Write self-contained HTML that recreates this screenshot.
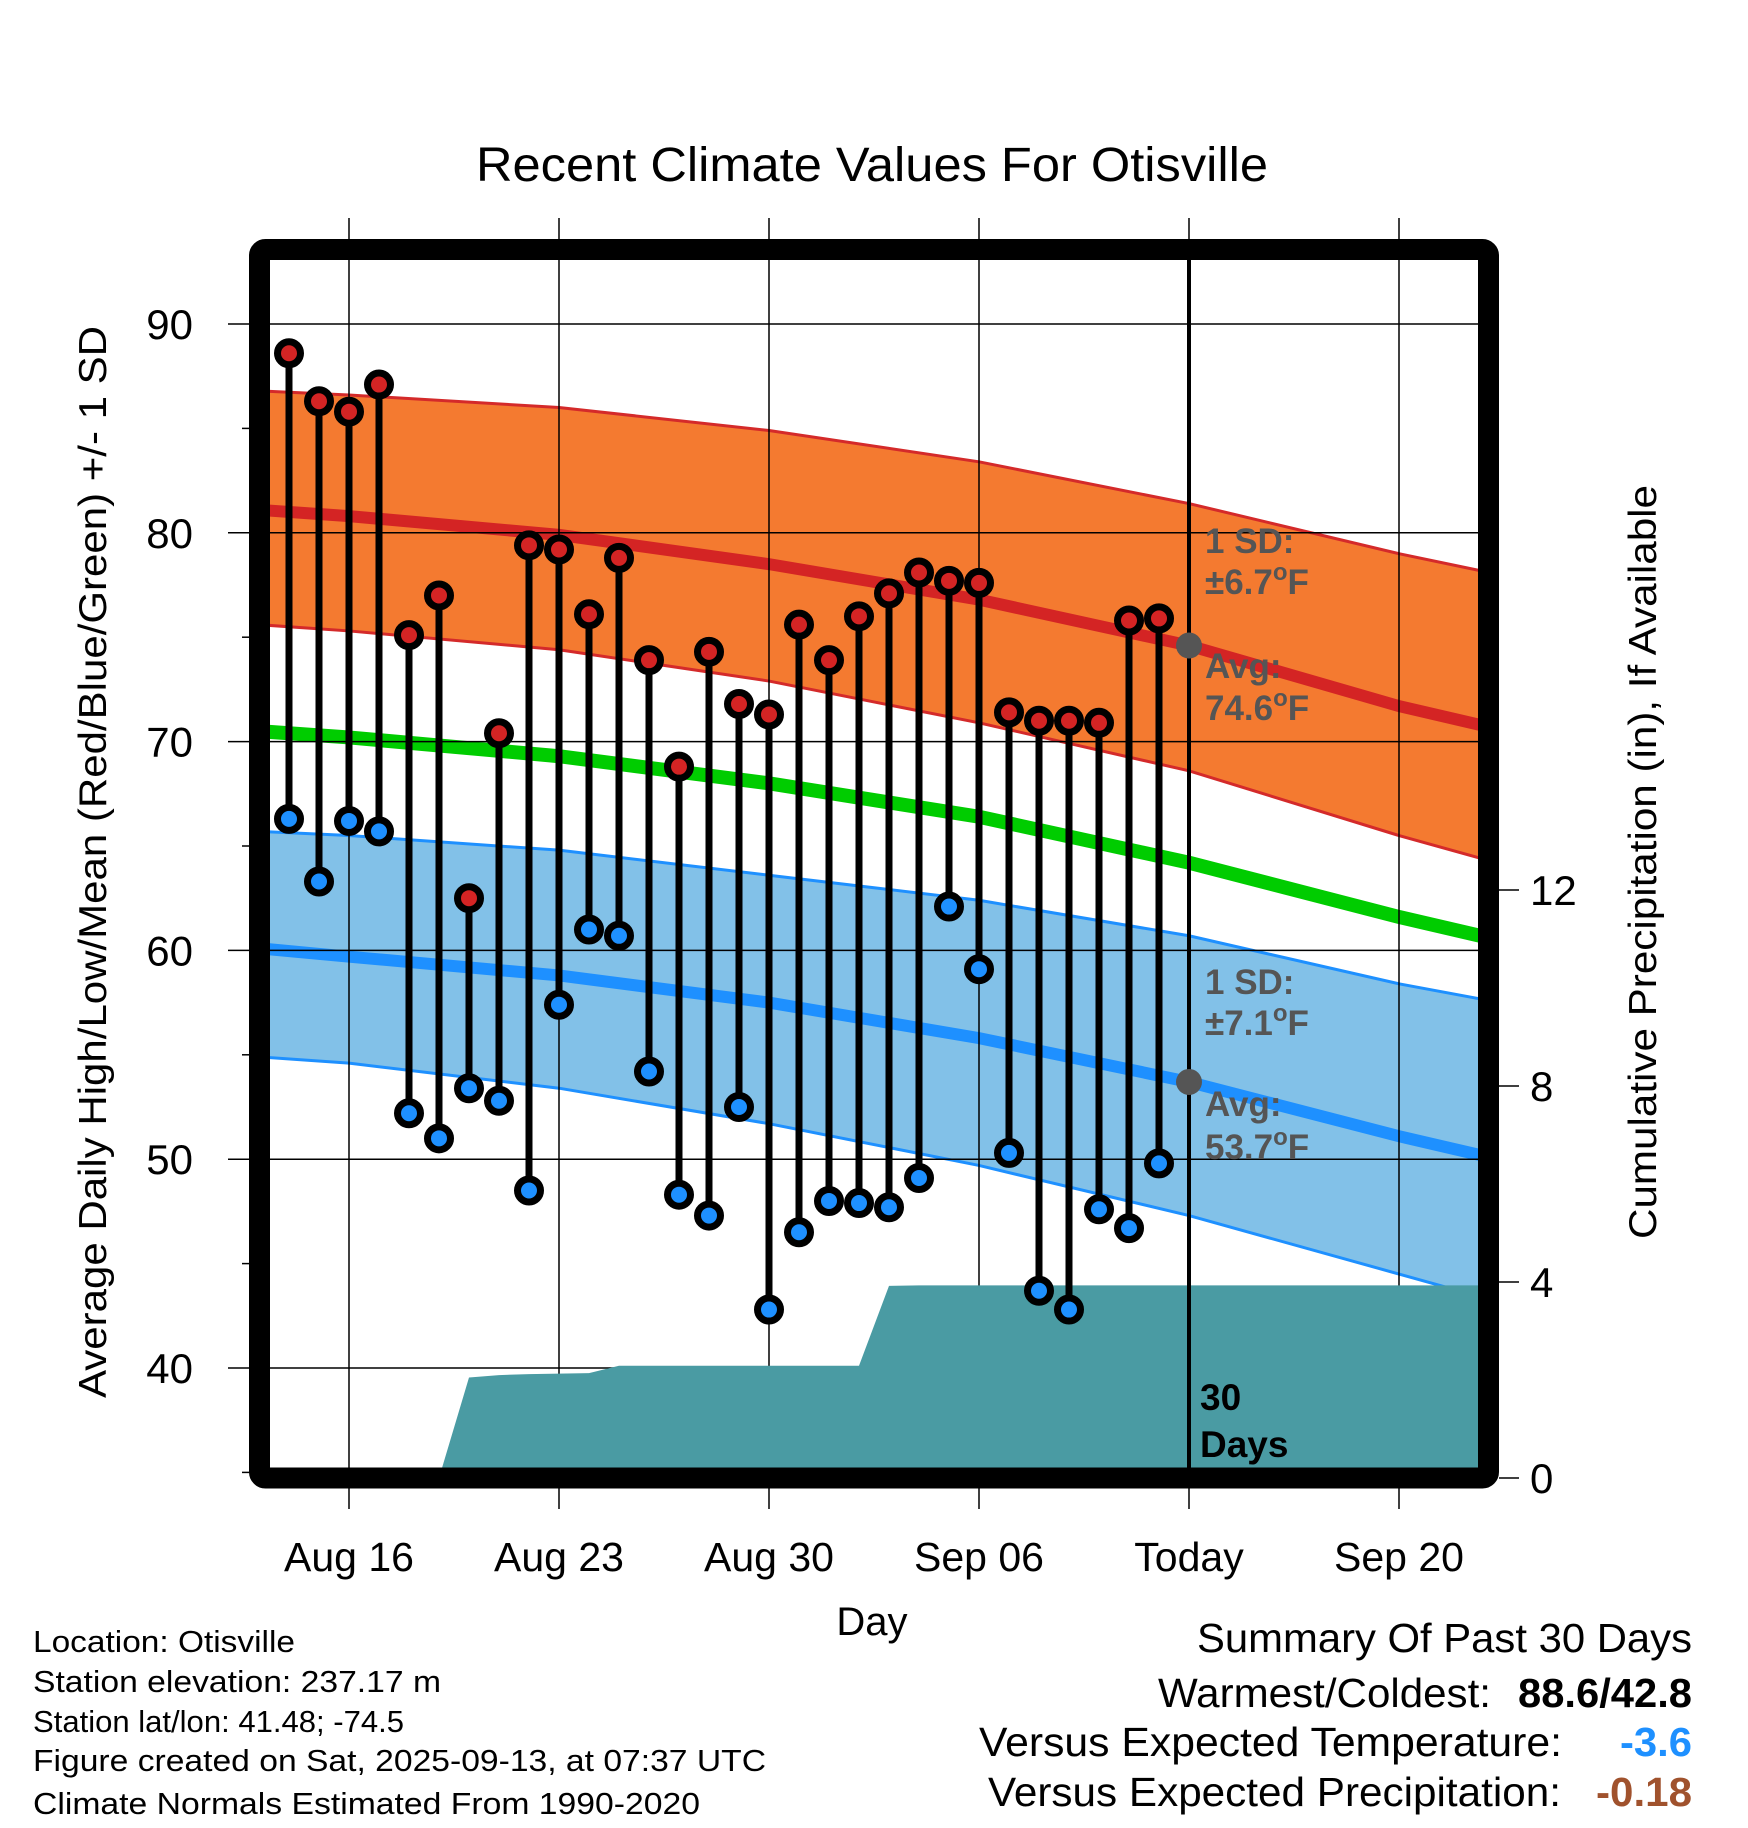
<!DOCTYPE html>
<html><head><meta charset="utf-8"><style>
html,body{margin:0;padding:0;background:#fff;}
svg{display:block;font-family:"Liberation Sans",sans-serif;}
</style></head><body>
<svg id="chart" width="1748" height="1828" viewBox="0 0 1748 1828" xmlns="http://www.w3.org/2000/svg">
<text x="872" y="181" font-size="48" text-anchor="middle" textLength="792" lengthAdjust="spacingAndGlyphs">Recent Climate Values For Otisville</text>
<defs><clipPath id="plotclip"><rect x="270" y="260" width="1208" height="1208"/></clipPath></defs>
<g id="bands" clip-path="url(#plotclip)"></g>
<g id="grid"></g>
<g id="precip" clip-path="url(#plotclip)"></g>
<g id="marks"></g>
<rect x="259.5" y="249.5" width="1229" height="1228.5" rx="6" fill="none" stroke="#000" stroke-width="21"/>
<g id="labels"></g>
<text transform="translate(106,862) rotate(-90)" font-size="39" text-anchor="middle" textLength="1072" lengthAdjust="spacingAndGlyphs">Average Daily High/Low/Mean (Red/Blue/Green) +/- 1 SD</text>
<text transform="translate(1656,862) rotate(-90)" font-size="39" text-anchor="middle" textLength="754" lengthAdjust="spacingAndGlyphs">Cumulative Precipitation (in), If Available</text>
<text x="872" y="1635" font-size="40" text-anchor="middle">Day</text>
<g font-size="31" lengthAdjust="spacingAndGlyphs">
<text x="33" y="1652" textLength="262" lengthAdjust="spacingAndGlyphs">Location: Otisville</text>
<text x="33" y="1692" textLength="408" lengthAdjust="spacingAndGlyphs">Station elevation: 237.17 m</text>
<text x="33" y="1732" textLength="371" lengthAdjust="spacingAndGlyphs">Station lat/lon: 41.48; -74.5</text>
<text x="33" y="1771" textLength="733" lengthAdjust="spacingAndGlyphs">Figure created on Sat, 2025-09-13, at 07:37 UTC</text>
<text x="33" y="1814" textLength="667" lengthAdjust="spacingAndGlyphs">Climate Normals Estimated From 1990-2020</text>
</g>
<g font-size="41">
<text x="1197" y="1652" textLength="495" lengthAdjust="spacingAndGlyphs">Summary Of Past 30 Days</text>
<text x="1158" y="1707" textLength="333" lengthAdjust="spacingAndGlyphs">Warmest/Coldest:</text>
<text x="1518" y="1707" font-weight="bold" textLength="174" lengthAdjust="spacingAndGlyphs">88.6/42.8</text>
<text x="979" y="1756" textLength="583" lengthAdjust="spacingAndGlyphs">Versus Expected Temperature:</text>
<text x="1620" y="1756" font-weight="bold" fill="#1E90FF" textLength="72" lengthAdjust="spacingAndGlyphs">-3.6</text>
<text x="988" y="1806" textLength="573" lengthAdjust="spacingAndGlyphs">Versus Expected Precipitation:</text>
<text x="1596" y="1806" font-weight="bold" fill="#A0522D" textLength="96" lengthAdjust="spacingAndGlyphs">-0.18</text>
</g>
</svg>
<script>
// Normals sampled at day offsets from Aug 16
const normDays = [-3, 0, 7, 14, 21, 28, 35, 38];
const redUpper = [86.8, 86.6, 86.0, 84.9, 83.4, 81.4, 79.0, 78.1];
const redMean  = [81.1, 80.8, 79.9, 78.5, 76.8, 74.6, 71.7, 70.7];
const redLower = [75.6, 75.3, 74.4, 72.9, 70.9, 68.6, 65.5, 64.3];
const greenMean= [70.5, 70.2, 69.3, 68.0, 66.4, 64.2, 61.6, 60.6];
const blueUpper= [65.7, 65.5, 64.8, 63.6, 62.4, 60.7, 58.4, 57.6];
const blueMean = [60.1, 59.7, 58.8, 57.5, 55.8, 53.7, 51.1, 50.1];
const blueLower= [54.9, 54.6, 53.4, 51.7, 49.7, 47.3, 44.5, 43.3];
// Observations: Aug 14 .. Sep 12 (day offsets -2..27)
const obsDays = [-2,-1,0,1,2,3,4,5,6,7,8,9,10,11,12,13,14,15,16,17,18,19,20,21,22,23,24,25,26,27];
const highs = [88.6,86.3,85.8,87.1,75.1,77.0,62.5,70.4,79.4,79.2,76.1,78.8,73.9,68.8,74.3,71.8,71.3,75.6,73.9,76.0,77.1,78.1,77.7,77.6,71.4,71.0,71.0,70.9,75.8,75.9];
const lows  = [66.3,63.3,66.2,65.7,52.2,51.0,53.4,52.8,48.5,57.4,61.0,60.7,54.2,48.3,47.3,52.5,42.8,46.5,48.0,47.9,47.7,49.1,62.1,59.1,50.3,43.7,42.8,47.6,46.7,49.8];
const precip = [0,0,0,0,0,0,2.05,2.10,2.12,2.13,2.14,2.29,2.29,2.29,2.29,2.29,2.29,2.29,2.29,2.29,3.92,3.93,3.93,3.93,3.93,3.93,3.93,3.93,3.93,3.93];
const xTickDays = [0, 7, 14, 21, 28, 35];
const xTickLabels = ["Aug 16","Aug 23","Aug 30","Sep 06","Today","Sep 20"];
const yTicks = [40, 50, 60, 70, 80, 90];
const yMinor = [35,45,55,65,75,85];
const pTicks = [0, 4, 8, 12];
const todayDay = 28;
const avgHigh = 74.6, avgLow = 53.7;
const sdHigh = 6.7, sdLow = 7.1;

const NS="http://www.w3.org/2000/svg";
const X = d => 349 + d*30;
const Y = t => 324 + (90 - t)*20.88;
const P = p => 1478 - p*49;
const L = 270, R = 1478, T = 260, B = 1468;
function mk(tag, attrs, parent){const e=document.createElementNS(NS,tag);for(const k in attrs)e.setAttribute(k,attrs[k]);parent.appendChild(e);return e;}
const bands=document.getElementById('bands'),grid=document.getElementById('grid'),pg=document.getElementById('precip'),marks=document.getElementById('marks'),labels=document.getElementById('labels');

function pts(arr){return normDays.map((d,i)=>X(d)+','+Y(arr[i])).join(' ');}
function band(up,lo,fill,edge,name){
  const p = pts(up)+' '+normDays.slice().reverse().map((d,i)=>X(d)+','+Y(lo[lo.length-1-i])).join(' ');
  const e=mk('polygon',{points:p,fill:fill},bands);
  
  
  const a=mk('polyline',{points:pts(up),fill:'none',stroke:edge,'stroke-width':3},bands);
  
  
  const b=mk('polyline',{points:pts(lo),fill:'none',stroke:edge,'stroke-width':3},bands);
  
  
}
band(redUpper,redLower,'#F47A30','#D42A2A','high-sd-band');
band(blueUpper,blueLower,'#82C1E8','#1E90FF','low-sd-band');
function line(arr,col,w,name){const e=mk('polyline',{points:pts(arr),fill:'none',stroke:col,'stroke-width':w},bands);
  
  }
line(redMean,'#D42424',12,'avg-high-line');
line(greenMean,'#00CC00',14,'avg-mean-line');
line(blueMean,'#1E90FF',12,'avg-low-line');

xTickDays.forEach((d,i)=>{
  const g=mk('line',{x1:X(d),x2:X(d),y1:218,y2:1509,stroke:'#000','stroke-width':1.5},grid);
  
  
  const t=mk('text',{x:X(d),y:1571,'font-size':41,'text-anchor':'middle'},labels);
  t.textContent=xTickLabels[i];
  
  
});
yTicks.forEach(v=>{
  const g=mk('line',{x1:228,x2:R,y1:Y(v),y2:Y(v),stroke:'#000','stroke-width':1.5},grid);
  
  
  const t=mk('text',{x:193,y:Y(v)+15,'font-size':42,'text-anchor':'end'},labels);
  t.textContent=v;
  
  
});
yMinor.forEach(v=>{
  const g=mk('line',{x1:242,x2:252,y1:Y(v),y2:Y(v),stroke:'#000','stroke-width':1.5},grid);
  
  
});
pTicks.forEach(v=>{
  const g=mk('line',{x1:1499,x2:1519,y1:P(v),y2:P(v),stroke:'#000','stroke-width':1.5},grid);
  
  
  const t=mk('text',{x:1530,y:P(v)+15,'font-size':42},labels);
  t.textContent=v;
  
  
});

let pp = X(-3)+','+P(precip[0])+' ';
obsDays.forEach((d,i)=>{pp+=X(d)+','+P(precip[i])+' ';});
pp += X(38)+','+P(precip[precip.length-1])+' '+X(38)+','+P(0)+' '+X(-3)+','+P(0);
const pa=mk('polygon',{points:pp,fill:'#4A9BA3'},pg);



const tl=mk('line',{x1:X(todayDay),x2:X(todayDay),y1:T,y2:B,stroke:'#000','stroke-width':4},marks);



obsDays.forEach((d,i)=>{
  const s=mk('line',{x1:X(d),x2:X(d),y1:Y(highs[i]),y2:Y(lows[i]),stroke:'#000','stroke-width':7},marks);
  
  
  [[highs[i],'#D42424','daily-high-point'],[lows[i],'#1E90FF','daily-low-point']].forEach(q=>{
    const c=mk('circle',{cx:X(d),cy:Y(q[0]),r:11.5,fill:q[1],stroke:'#000','stroke-width':7},marks);
    
    
  });
});
[avgHigh,avgLow].forEach(v=>{
  const c=mk('circle',{cx:X(todayDay),cy:Y(v),r:13,fill:'#555'},marks);
  
  
});

function degText(prefix, val, y){
  const t=mk('text',{x:1205,y:y,'font-size':35,'font-weight':'bold',fill:'#555'},marks);
  
  
  const a=mk('tspan',{},t); a.textContent=prefix+val.toFixed(1);
  const b=mk('tspan',{'font-size':24,dy:-14}, t); b.textContent='o';
  const c=mk('tspan',{dy:14}, t); c.textContent='F';
}
function plain(txt,y){
  const t=mk('text',{x:1205,y:y,'font-size':35,'font-weight':'bold',fill:'#555'},marks);
  t.textContent=txt;
  
  
}
plain("1 SD:",553); degText("\u00B1",sdHigh,594); plain("Avg:",678); degText("",avgHigh,720);
plain("1 SD:",994); degText("\u00B1",sdLow,1035); plain("Avg:",1116); degText("",avgLow,1159);
[["30",1410],["Days",1457]].forEach(a=>{
  const t=mk('text',{x:1200,y:a[1],'font-size':37,'font-weight':'bold',fill:'#000'},marks);
  t.textContent=a[0];
  
  
});
</script>
</body></html>
